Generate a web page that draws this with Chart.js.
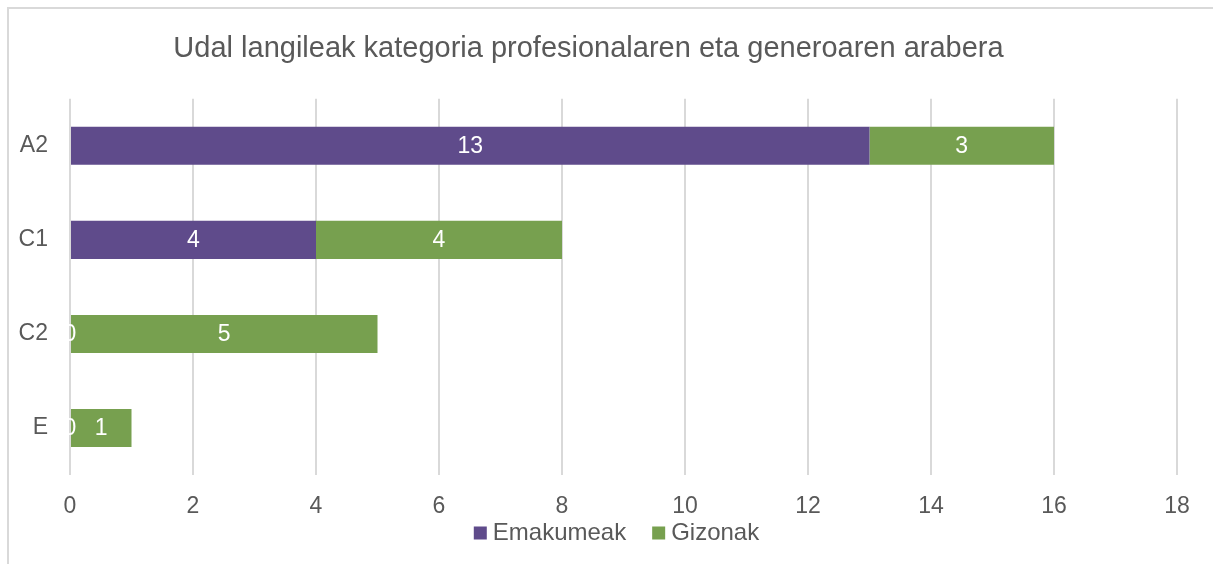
<!DOCTYPE html>
<html>
<head>
<meta charset="utf-8">
<script src="https://cdn.jsdelivr.net/npm/chart.js@4/dist/chart.umd.min.js"></script>
<style>
  html, body { margin: 0; padding: 0; background: #fff; overflow: hidden; }
  #wrap { position: relative; width: 1213px; height: 564px; }
  #frame { position: absolute; left: 7px; top: 7px; width: 1300px; height: 700px;
           border: 2px solid #d9d9d9; box-sizing: border-box; }
  #chart { position: absolute; left: 0; top: 0; }
</style>
</head>
<body>
<div id="wrap">
  <div id="frame"></div>
  <canvas id="chart" width="1213" height="564"></canvas>
</div>
<script>
// --- data ---
const categories = ['A2', 'C1', 'C2', 'E'];
const emakumeak = [13, 4, 0, 0];
const gizonak = [3, 4, 5, 1];
const xTicks = [0, 2, 4, 6, 8, 10, 12, 14, 16, 18];

const textColor = '#595959';
const fontFamily = '"Liberation Sans", Arial, sans-serif';

// white value labels in the middle of each bar segment
const barLabels = {
  id: 'barLabels',
  afterDatasetsDraw(chart) {
    const ctx = chart.ctx;
    ctx.save();
    ctx.fillStyle = '#ffffff';
    ctx.font = '23px ' + fontFamily;
    ctx.textAlign = 'center';
    ctx.textBaseline = 'middle';
    chart.data.datasets.forEach((ds, i) => {
      chart.getDatasetMeta(i).data.forEach((bar, j) => {
        ctx.fillText(String(ds.data[j]), (bar.x + bar.base) / 2, bar.y + 1);
      });
    });
    ctx.restore();
  }
};

// compact legend under the axis (box close to its text, like the original)
const bottomLegend = {
  id: 'bottomLegend',
  afterDraw(chart) {
    const ctx = chart.ctx;
    const box = 13, gap = 6, itemGap = 26, y = 533;
    ctx.save();
    ctx.font = '24px ' + fontFamily;
    ctx.textBaseline = 'middle';
    const items = chart.data.datasets.map(ds => ({
      text: ds.label, color: ds.backgroundColor, w: ctx.measureText(ds.label).width
    }));
    let total = items.reduce((s, it) => s + box + gap + it.w, 0) + itemGap * (items.length - 1);
    let x = chart.width / 2 + 10 - total / 2;
    items.forEach(it => {
      ctx.fillStyle = it.color;
      ctx.fillRect(x, y - box / 2, box, box);
      x += box + gap;
      ctx.fillStyle = textColor;
      ctx.fillText(it.text, x, y);
      x += it.w + itemGap;
    });
    ctx.restore();
  }
};

new Chart(document.getElementById('chart'), {
  type: 'bar',
  data: {
    labels: categories,
    datasets: [
      { label: 'Emakumeak', data: emakumeak, backgroundColor: '#5f4b8b' },
      { label: 'Gizonak', data: gizonak, backgroundColor: '#77a04f' }
    ]
  },
  options: {
    indexAxis: 'y',
    responsive: false,
    animation: false,
    devicePixelRatio: 1,
    layout: { padding: { left: 0, right: 36, top: 0, bottom: 51 } },
    datasets: { bar: { categoryPercentage: 1, barPercentage: 0.405 } },
    scales: {
      x: {
        stacked: true,
        min: 0,
        max: 18,
        afterBuildTicks: scale => { scale.ticks = xTicks.map(v => ({ value: v })); },
        afterFit: scale => { scale.height = 38; },
        grid: { color: '#d9d9d9', lineWidth: 2, drawTicks: false },
        border: { display: false },
        ticks: { color: textColor, font: { family: fontFamily, size: 23 }, padding: 18 }
      },
      y: {
        stacked: true,
        afterFit: scale => { scale.width = 70; },
        grid: { display: false, drawTicks: false },
        border: { display: false },
        ticks: { color: textColor, font: { family: fontFamily, size: 23 }, padding: 22 }
      }
    },
    plugins: {
      title: {
        display: true,
        text: 'Udal langileak kategoria profesionalaren eta generoaren arabera',
        color: textColor,
        font: { family: fontFamily, size: 29, weight: 'normal' },
        padding: { top: 32, bottom: 32 }
      },
      legend: { display: false },
      tooltip: { enabled: false }
    }
  },
  plugins: [barLabels, bottomLegend]
});
</script>
</body>
</html>
